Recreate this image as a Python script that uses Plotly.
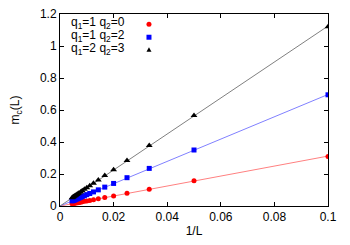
import plotly.graph_objects as go

inv_L = [0.1, 0.05, 0.0333, 0.025, 0.02, 0.0167, 0.0143, 0.0125, 0.0111, 0.01,
         0.0091, 0.0083, 0.0077, 0.0071, 0.0067, 0.0063, 0.0059, 0.0056, 0.0053,
         0.005, 0.0048, 0.0045]
m_q10 = [0.31, 0.158, 0.105, 0.079, 0.063, 0.053, 0.045, 0.039, 0.035, 0.032,
         0.029, 0.026, 0.024, 0.022, 0.021, 0.020, 0.019, 0.018, 0.017, 0.016,
         0.015, 0.014]
m_q12 = [0.695, 0.35, 0.235, 0.177, 0.141, 0.118, 0.101, 0.088, 0.078, 0.071,
         0.064, 0.059, 0.054, 0.050, 0.047, 0.044, 0.042, 0.039, 0.037, 0.035,
         0.034, 0.032]
m_q23 = [1.12, 0.565, 0.378, 0.284, 0.227, 0.19, 0.163, 0.142, 0.127, 0.114,
         0.104, 0.095, 0.088, 0.081, 0.076, 0.072, 0.067, 0.064, 0.061, 0.058,
         0.055, 0.052]

fit_x = [0, 0.1]
fit_q10 = [0, 0.312]
fit_q12 = [0, 0.697]
fit_q23 = [0, 1.125]

labels = ["q<sub>1</sub>=1 q<sub>2</sub>=0",
          "q<sub>1</sub>=1 q<sub>2</sub>=2",
          "q<sub>1</sub>=2 q<sub>2</sub>=3"]
x_ticks = [0, 0.02, 0.04, 0.06, 0.08, 0.1]
x_ticktext = ["0", "0.02", "0.04", "0.06", "0.08", "0.1"]
y_ticks = [0, 0.2, 0.4, 0.6, 0.8, 1.0, 1.2]
y_ticktext = ["0", "0.2", "0.4", "0.6", "0.8", "1", "1.2"]

FONT = "Liberation Sans, Arial, sans-serif"

fig = go.Figure()
fig.add_trace(go.Scatter(x=fit_x, y=fit_q10, mode="lines",
                         line=dict(color="#ff8080", width=1), showlegend=False))
fig.add_trace(go.Scatter(x=fit_x, y=fit_q12, mode="lines",
                         line=dict(color="#8080ff", width=1), showlegend=False))
fig.add_trace(go.Scatter(x=fit_x, y=fit_q23, mode="lines",
                         line=dict(color="#808080", width=1), showlegend=False))
fig.add_trace(go.Scatter(x=inv_L, y=m_q10, mode="markers",
                         marker=dict(symbol="circle", size=5, color="#ff0000"), showlegend=False))
fig.add_trace(go.Scatter(x=inv_L, y=m_q12, mode="markers",
                         marker=dict(symbol="square", size=5, color="#0000ff"), showlegend=False))
fig.add_trace(go.Scatter(x=inv_L, y=m_q23, mode="markers",
                         marker=dict(symbol="triangle-up", size=6, color="#000000"), showlegend=False))

# custom gnuplot-style key: text on the left, symbol on the right
text_y = [0.954, 0.885, 0.816]
mark_y = [0.946, 0.879, 0.814]
for lab, ty in zip(labels, text_y):
    fig.add_annotation(text=lab, xref="paper", yref="paper", x=0.033, y=ty,
                       xanchor="left", yanchor="middle", showarrow=False,
                       font=dict(family=FONT, size=12, color="black"))
mx = 0.332
fig.add_shape(type="circle", xref="paper", yref="paper", xsizemode="pixel", ysizemode="pixel",
              xanchor=mx, yanchor=mark_y[0], x0=-2.5, x1=2.5, y0=-2.5, y1=2.5,
              fillcolor="#ff0000", line=dict(width=0))
fig.add_shape(type="rect", xref="paper", yref="paper", xsizemode="pixel", ysizemode="pixel",
              xanchor=mx, yanchor=mark_y[1], x0=-2.5, x1=2.5, y0=-2.5, y1=2.5,
              fillcolor="#0000ff", line=dict(width=0))
fig.add_shape(type="path", xref="paper", yref="paper", xsizemode="pixel", ysizemode="pixel",
              xanchor=mx, yanchor=mark_y[2], path="M -2.5 -2 L 2.5 -2 L 0 2.5 Z",
              fillcolor="#000000", line=dict(width=0))

axis_common = dict(showline=True, linecolor="black", linewidth=1, mirror="ticks",
                   ticks="inside", ticklen=4, tickcolor="black", showgrid=False,
                   zeroline=False, automargin=False, ticklabeloverflow="allow",
                   tickfont=dict(family=FONT, size=12, color="black"))
fig.update_xaxes(range=[0, 0.1], tickvals=x_ticks, ticktext=x_ticktext,
                 title=dict(text="1/L", font=dict(family=FONT, size=12, color="black"), standoff=3),
                 **axis_common)
fig.update_yaxes(range=[0, 1.2], tickvals=y_ticks, ticktext=y_ticktext,
                 title=dict(text="m<sub>c</sub>(L)", font=dict(family=FONT, size=12, color="black"), standoff=26),
                 **axis_common)
# page body adds an 8px margin, so the figure is 8px smaller with offsets reduced
fig.update_layout(width=342, height=237, margin=dict(l=52, r=22, t=6, b=39),
                  plot_bgcolor="white", paper_bgcolor="white",
                  font=dict(family=FONT, size=12, color="black"))
fig.write_html("out.html")
